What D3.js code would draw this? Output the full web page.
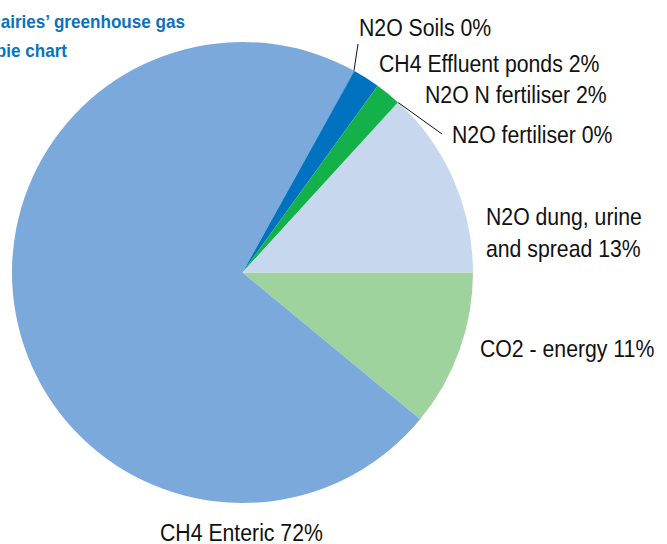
<!DOCTYPE html>
<html>
<head>
<meta charset="utf-8">
<script src="https://cdn.jsdelivr.net/npm/d3@7"></script>
<style>
    body { margin: 0; background: #fff; }
    svg { display: block; }
    .label { font-family: "Liberation Sans", Arial, sans-serif; font-size: 24px; fill: #111; }
    .title { font-family: "Liberation Sans", Arial, sans-serif; font-size: 18px; font-weight: bold; fill: #0a72bf; }
    .leader { stroke: #111; stroke-width: 1; fill: none; }
</style>
</head>
<body>
<svg id="chart" width="667" height="544"></svg>
<script>
// slices, clockwise from 3 o'clock
const categories = ['CO2 - energy', 'CH4 Enteric', 'N2O Soils', 'CH4 Effluent ponds',
    'N2O N fertiliser', 'N2O fertiliser', 'N2O dung, urine and spread'];
const shares = [11.0, 72.1, 0.04, 1.9, 1.8, 0.04, 13.2];
const shownPct = ['11%', '72%', '0%', '2%', '2%', '0%', '13%'];
const colours = ['#9fd39e', '#7ba9db', '#0072c0', '#0072c0', '#14b14b', '#14b14b', '#c7d8ee'];

// label layout: lines of text, left x, first baseline, leader end (if any)
const labelLayout = [
    {lines: ['CO2 - energy 11%'], x: 480, y: 357},
    {lines: ['CH4 Enteric 72%'], x: 160, y: 541},
    {lines: ['N2O Soils 0%'], x: 359, y: 36, leader: [358, 44]},
    {lines: ['CH4 Effluent ponds 2%'], x: 379, y: 72},
    {lines: ['N2O N fertiliser 2%'], x: 425, y: 103},
    {lines: ['N2O fertiliser 0%'], x: 452, y: 143, leader: [442, 134], atEnd: true},
    {lines: ['N2O dung, urine', 'and spread 13%'], x: 486, y: 225}
];

const cx = 242.5, cy = 272.5, radius = 230.5;
const squeeze = 0.885;   // narrow the face to look like a condensed font
const svg = d3.select('#chart');

let pie = d3.pie()
    .sort(null)
    .value(d => d.v)
    .startAngle(Math.PI / 2)
    .endAngle(Math.PI / 2 + 2 * Math.PI);
let arcs = pie(categories.map((c, i) => ({name: c, v: shares[i], i: i})));
let arc = d3.arc().innerRadius(0).outerRadius(radius);

let g = svg.append('g')
    .attr('transform', 'translate(' + cx + ',' + cy + ')');

g.selectAll('.slice')
    .data(arcs)
    .enter()
    .append('path')
    .attr('class', 'slice')
    .attr('d', arc)
    .attr('fill', d => colours[d.data.i]);

// leader lines for the tiny slices start on the rim
let rim = a => [Math.sin(a) * radius + cx, -Math.cos(a) * radius + cy];
arcs.forEach((d, i) => {
    let lay = labelLayout[i];
    if (!lay.leader) return;
    let p = rim(lay.atEnd ? d.endAngle : d.startAngle);
    svg.append('line')
        .attr('class', 'leader')
        .attr('x1', p[0]).attr('y1', p[1])
        .attr('x2', lay.leader[0]).attr('y2', lay.leader[1]);
});

labelLayout.forEach(lay => {
    let t = svg.append('text')
        .attr('class', 'label')
        .attr('transform', 'translate(' + lay.x + ',' + lay.y + ') scale(' + squeeze + ',1)');
    lay.lines.forEach((l, j) => {
        t.append('tspan')
            .attr('x', 0)
            .attr('y', j * 32)
            .text(l);
    });
});

svg.append('text')
    .attr('class', 'title')
    .attr('transform', 'translate(185,28) scale(0.95,1)')
    .attr('text-anchor', 'end')
    .text('Dairies’ greenhouse gas');
svg.append('text')
    .attr('class', 'title')
    .attr('transform', 'translate(67,57) scale(0.95,1)')
    .attr('text-anchor', 'end')
    .text('pie chart');
</script>
</body>
</html>
